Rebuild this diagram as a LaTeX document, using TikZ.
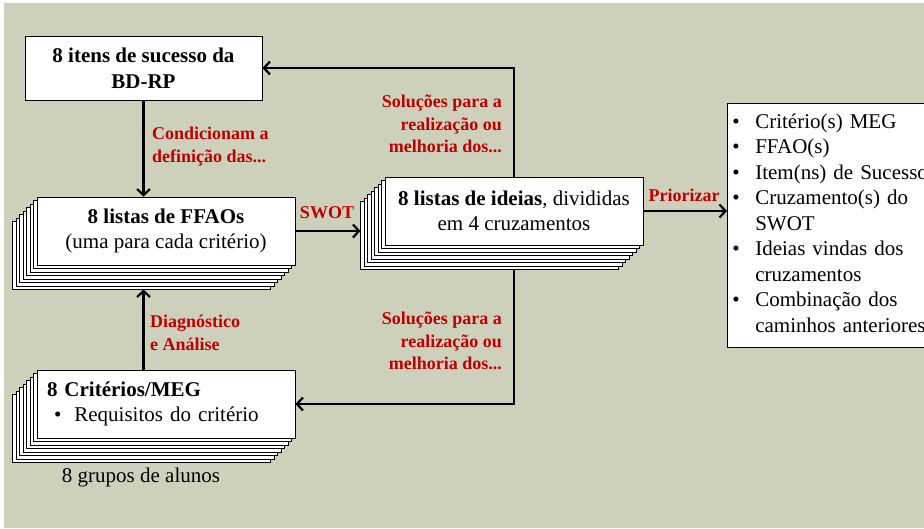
\documentclass[tikz,border=0pt]{standalone}
\usepackage{fontspec}
\setmainfont{Liberation Serif}
\usetikzlibrary{arrows.meta,positioning}
\definecolor{bgcol}{RGB}{205,209,187}
\definecolor{lblred}{RGB}{192,0,0}

\tikzset{
  card/.style={draw=black, fill=white, line width=0.9pt, inner sep=0pt,
    font=\fontsize{21}{25.5}\selectfont},
  flow/.style={line width=2.4pt, -{Straight Barb[length=6pt,width=13pt,line width=2.2pt]}},
  redlbl/.style={text=lblred, inner sep=0pt, font=\fontsize{18}{22.8}\selectfont\bfseries}
}

% stack of 7 sheets behind a card
\newcommand{\sheets}[3]{%
  \foreach \k in {7,6,...,1}
    \draw[fill=white, line width=0.8pt] (#1-3.5*\k, #2+3.5*\k) rectangle ++(258,68);
  \coordinate (#3) at (#1-24.5, #2+92.5);
}

\begin{document}
\begin{tikzpicture}[x=1pt, y=-1pt]
    \useasboundingbox (0,0) rectangle (924,528);
    \fill[white] (0,0) rectangle (924,528);
    \fill[bgcol] (4,3) rectangle (924,528);

    % top card
    \node[card, minimum width=237pt, minimum height=64pt, align=center] (itens) at (143.5,68)
        {\textbf{8 itens de sucesso da}\\\textbf{BD-RP}};

    % FFAOs
    \sheets{37}{197}{ffaoback}
    \node[card, minimum width=258pt, minimum height=68pt, align=center] (ffao) at (166,231)
        {\textbf{8 listas de FFAOs}\\(uma para cada critério)};

    % ideias
    \sheets{385}{177}{ideiaback}
    \node[card, minimum width=258pt, minimum height=68pt, align=center] (ideia) at (514,211)
        {\textbf{8 listas de ideias}, divididas\\em 4 cruzamentos};

    % criterios
    \sheets{37}{370}{megback}
    \node[card, minimum width=258pt, minimum height=68pt, text width=238pt, inner xsep=10pt,
          align=left] (meg) at (166,404)
        {\textbf{8 Critérios/MEG}\\\hspace{7pt}•\hspace{13pt}Requisitos do critério};
    \node[font=\fontsize{21}{25.5}\selectfont, inner sep=0pt] (grupos) at (141,477) {8 grupos de alunos};

    % prioridades
    \node[card, anchor=north west, minimum height=243pt, text width=209pt, inner xsep=3pt,
          inner ysep=7pt, align=left] (prior) at (727,103)
        {\begin{tabular}{@{\hspace{2pt}}l@{\hspace{15.5pt}}l@{}}
          • & Critério(s) MEG\\
          • & FFAO(s)\\
          • & Item(ns) de Sucesso\\
          • & Cruzamento(s) do\\
            & SWOT\\
          • & Ideias vindas dos\\
            & cruzamentos\\
          • & Combinação dos\\
            & caminhos anteriores
         \end{tabular}};

    % connectors
    \draw[flow] (itens.south) -- (itens.south |- ffao.north);
    \draw[flow] (meg.north -| itens.south) -- (itens.south |- ffaoback);
    \draw[flow] (ffao.east) -- (ffao.east -| ideiaback);
    \draw[flow] (ideia.east) -- (ideia.east -| prior.west);
    \draw[flow] (ideia.north) |- (itens.east);
    \draw[flow] (ideia.south |- ideiaback) |- (meg.east);

    % labels
    \node[redlbl, align=left, anchor=west] (cond) at (152,146.5) {Condicionam a\\definição das...};
    \node[redlbl, align=left, anchor=west] (diag) at (150,332.5) {Diagnóstico\\e Análise};
    \node[redlbl, align=right, anchor=east] (sol1) at (502,124) {Soluções para a\\realização ou\\melhoria dos...};
    \node[redlbl, align=right, anchor=east] (sol2) at (502,341) {Soluções para a\\realização ou\\melhoria dos...};
    \node[redlbl] (swot) at (327,213) {SWOT};
    \node[redlbl] (prz) at (684,195) {Priorizar};
\end{tikzpicture}
\end{document}
